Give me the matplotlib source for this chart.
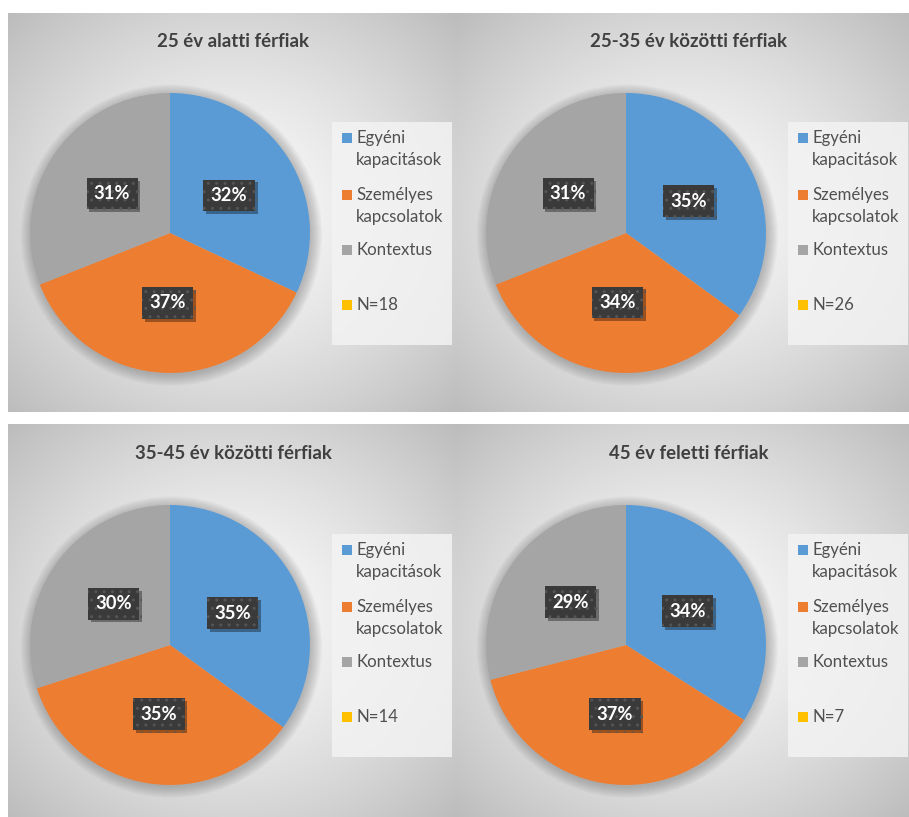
import numpy as np
import matplotlib
matplotlib.use('Agg')
import matplotlib.pyplot as plt
from matplotlib.patches import Rectangle, Circle
import matplotlib.patheffects as pe

plt.rcParams['font.family'] = ['Lato', 'DejaVu Sans']

titles = ["25 év alatti férfiak", "25-35 év közötti férfiak",
          "35-45 év közötti férfiak", "45 év feletti férfiak"]
categories = ["Egyéni\nkapacitások", "Személyes\nkapcsolatok", "Kontextus"]
n_labels = ["N=18", "N=26", "N=14", "N=7"]
vals_25 = [32, 37, 31]
vals_25_35 = [35, 34, 31]
vals_35_45 = [35, 35, 30]
vals_45 = [34, 37, 29]
values = [vals_25, vals_25_35, vals_35_45, vals_45]
colors = ["#5B9BD5", "#ED7D31", "#A5A5A5"]
n_color = "#FFC000"

W, H = 909, 817
fig = plt.figure(figsize=(W / 100, H / 100), dpi=100)
bg = fig.add_axes([0, 0, 1, 1])
bg.axis('off')

# background radial gradients
img = np.ones((H, W, 3))
panels = [(8, 13, 456, 412), (456, 13, 909, 412), (8, 424, 456, 817), (456, 424, 909, 817)]
yy, xx = np.mgrid[0:H, 0:W]
for (x0, y0, x1, y1) in panels:
    cx, cy = (x0 + x1) / 2, (y0 + y1) / 2
    dx = (xx[y0:y1, x0:x1] - cx) / ((x1 - x0) / 2)
    dy = (yy[y0:y1, x0:x1] - cy) / ((y1 - y0) / 2)
    d = np.sqrt(dx ** 2 + dy ** 2) / np.sqrt(2)
    v = (250 - 62 * d ** 1.4) / 255
    img[y0:y1, x0:x1, :] = v[..., None]
bg.imshow(img, extent=(0, W, H, 0), aspect='auto', interpolation='bilinear')
bg.set_xlim(0, W)
bg.set_ylim(H, 0)

offsets = [(0, 0), (456, 0), (0, 412), (456, 412)]
entry_y = [138, 195, 250, 305]

for i, (ox, oy) in enumerate(offsets):
    # title
    bg.text(233 + ox, 41 + oy, titles[i], ha='center', va='center',
            fontsize=13.4, fontweight='bold', color='#404040')
    # legend box
    bg.add_patch(Rectangle((332 + ox, 122 + oy), 120, 223, fc='#f3f3f3',
                           ec='none', alpha=0.85))
    labels = categories + [n_labels[i]]
    lcolors = colors + [n_color]
    for j, lab in enumerate(labels):
        y = entry_y[j] + oy
        bg.add_patch(Rectangle((342 + ox, y - 5), 10, 10, fc=lcolors[j], ec='none'))
        for k, line in enumerate(lab.split('\n')):
            bg.text(356 + ox, y + k * 22, line, ha='left', va='center',
                    fontsize=12.1, color='#505050')

    # pie
    cxp, cyp, r = 170 + ox, 233 + oy, 140
    ax = fig.add_axes([(cxp - r) / W, (H - (cyp + r)) / H, 2 * r / W, 2 * r / H])
    ax.axis('off')
    for s in range(12):
        ax.add_patch(Circle((0.01, -0.015), 1.0 + 0.007 * s, fc='#606060',
                            alpha=0.035, ec='none', clip_on=False))
    wedges, texts, autotexts = ax.pie(values[i], colors=colors, startangle=90,
                                      counterclock=False, radius=1,
                                      autopct='%.0f%%', pctdistance=0.5,
                                      wedgeprops=dict(linewidth=0))
    for t in autotexts:
        t.set_color('white')
        t.set_fontweight('bold')
        t.set_fontsize(13.2)
        t.set_bbox(dict(boxstyle='square,pad=0.4', fc='#3a3a3a', ec='#555555',
                        lw=0, hatch='..'))
        t.get_bbox_patch().set_path_effects([
            pe.SimplePatchShadow(offset=(2, -2), shadow_rgbFace='black', alpha=0.35),
            pe.Normal()])
    ax.set_xlim(-1, 1)
    ax.set_ylim(-1, 1)
    ax.set_aspect('auto')

fig.savefig('out.png', dpi=100)
